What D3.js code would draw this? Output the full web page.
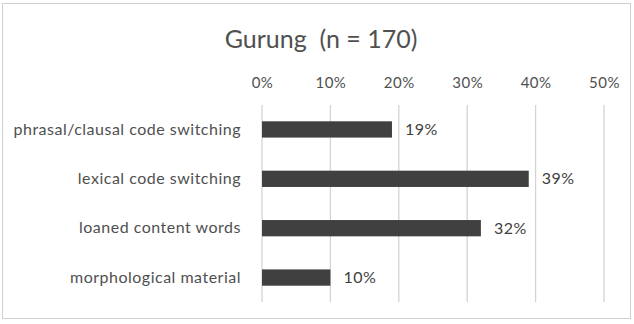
<!DOCTYPE html>
<html>
<head>
<meta charset="utf-8">
<script src="https://cdn.jsdelivr.net/npm/d3@7"></script>
<style>
  body { margin: 0; background: #fff; }
  text { font-family: Lato, "Open Sans", sans-serif; }
</style>
</head>
<body>
<div id="chart"></div>
<script>
var categories = ["phrasal/clausal code switching",
                  "lexical code switching",
                  "loaned content words",
                  "morphological material"];
var values = [19, 39, 32, 10];
var tickValues = [0, 10, 20, 30, 40, 50];
var title = "Gurung  (n = 170)";

var w = 634;
var h = 324;

var xscale = d3.scaleLinear()
    .domain([0, 50])
    .range([262, 604]);

var yscale = d3.scaleBand()
    .domain(categories)
    .range([105, 302])
    .paddingInner(0.67)
    .paddingOuter(0.33);

var svg = d3.select("#chart")
    .append("svg")
    .attr("width", w)
    .attr("height", h);

// outer frame
svg.append("rect")
    .attr("x", 2.5)
    .attr("y", 3.5)
    .attr("width", 628)
    .attr("height", 315)
    .attr("fill", "#fff")
    .attr("stroke", "#d0d0d0");

// title
svg.append("text")
    .attr("x", 321)
    .attr("y", 48)
    .attr("text-anchor", "middle")
    .attr("font-size", "25px")
    .attr("fill", "#505050")
    .style("white-space", "pre")
    .text(title);

// gridlines
svg.selectAll("line.grid")
    .data(tickValues)
    .enter()
    .append("line")
    .attr("class", "grid")
    .attr("x1", function(d) { return xscale(d); })
    .attr("x2", function(d) { return xscale(d); })
    .attr("y1", 105)
    .attr("y2", 302)
    .style("stroke", "#d4d4d4")
    .style("stroke-width", 1.3);

// top axis labels
var xaxis = d3.axisTop(xscale)
    .tickValues(tickValues)
    .tickSize(0)
    .tickPadding(0)
    .tickFormat(function(d) { return d + "%"; });

var gx = svg.append("g")
    .attr("transform", "translate(0,88)")
    .call(xaxis);
gx.select(".domain").remove();
gx.selectAll("text")
    .attr("font-family", "Lato, 'Open Sans', sans-serif")
    .attr("font-size", "15px")
    .attr("letter-spacing", "0.5px")
    .attr("fill", "#505050");

// category labels
var yaxis = d3.axisLeft(yscale)
    .tickSize(0)
    .tickPadding(0);

var gy = svg.append("g")
    .attr("transform", "translate(241,0)")
    .call(yaxis);
gy.select(".domain").remove();
gy.selectAll("text")
    .attr("font-family", "Lato, 'Open Sans', sans-serif")
    .attr("font-size", "16px")
    .attr("letter-spacing", "0.5px")
    .attr("fill", "#505050");

// bars
svg.selectAll("rect.bar")
    .data(values)
    .enter()
    .append("rect")
    .attr("class", "bar")
    .attr("x", xscale(0))
    .attr("y", function(d, i) { return yscale(categories[i]); })
    .attr("width", function(d) { return xscale(d) - xscale(0); })
    .attr("height", yscale.bandwidth())
    .attr("fill", "#404040");

// value labels
svg.selectAll("text.val")
    .data(values)
    .enter()
    .append("text")
    .attr("class", "val")
    .attr("x", function(d) { return xscale(d) + 13; })
    .attr("y", function(d, i) { return yscale(categories[i]) + yscale.bandwidth() / 2; })
    .attr("dy", "0.35em")
    .attr("font-size", "16px")
    .attr("letter-spacing", "0.5px")
    .attr("fill", "#404040")
    .text(function(d) { return d + "%"; });
</script>
</body>
</html>
